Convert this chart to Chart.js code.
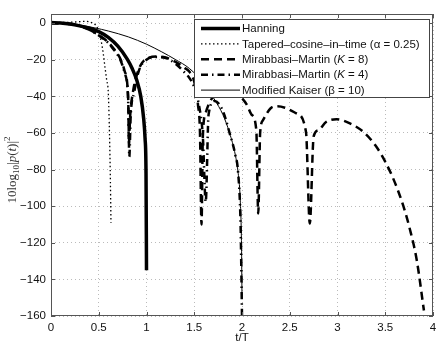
<!DOCTYPE html>
<html>
<head>
<meta charset="utf-8">
<script src="https://cdn.jsdelivr.net/npm/chart.js@4"></script>
<style>
  html, body { margin: 0; padding: 0; background: #fff; }
  #wrap { width: 443px; height: 350px; }
</style>
</head>
<body>
<div id="wrap"><canvas id="chart" width="443" height="350"></canvas></div>
<script>
// axis ticks
const xTicks = [0, 0.5, 1, 1.5, 2, 2.5, 3, 3.5, 4];
const yTicks = [-160, -140, -120, -100, -80, -60, -40, -20, 0];

// Hanning
const hanT  = [0, 0.1, 0.2, 0.3, 0.4, 0.5, 0.6, 0.7, 0.8, 0.85, 0.9, 0.94, 0.97, 0.985, 0.995, 1.0];
const hanDb = [0.3, 0.1, -0.5, -1.5, -2.8, -4.6, -7.8, -12.6, -19.8, -24.8, -31.5, -40, -52, -63, -82, -135];

// Tapered-cosine-in-time (alpha = 0.25)
const tcT  = [0, 0.1, 0.2, 0.3, 0.34, 0.43, 0.48, 0.505, 0.53, 0.547, 0.565, 0.583, 0.6, 0.61, 0.62, 0.628];
const tcDb = [0.4, 0.4, 0.5, 0.8, 1, 0.2, -2, -5.6, -11, -16.5, -24, -31, -38, -55, -80, -109];

// Mirabbasi-Martin K = 8
const k8T  = [0, 0.1, 0.2, 0.3, 0.4, 0.5, 0.6, 0.65, 0.7, 0.73, 0.77, 0.8, 0.81, 0.815, 0.83, 0.86, 0.9, 0.95, 1.0, 1.1, 1.2, 1.3, 1.4, 1.45, 1.5, 1.54, 1.56, 1.576, 1.59, 1.62, 1.7, 1.8, 1.9, 2.0, 2.05, 2.1, 2.15, 2.17, 2.19, 2.22, 2.3, 2.37, 2.45, 2.57, 2.67, 2.71, 2.75, 2.8, 2.88, 2.99, 3.13, 3.27, 3.4, 3.51, 3.6, 3.69, 3.76, 3.83, 3.905];
const k8Db = [0, -0.1, -0.5, -1.5, -3.5, -6.5, -10.5, -13.5, -17, -20, -26, -34, -45, -66, -50, -37, -28, -22, -19.5, -18.2, -18.8, -21, -24.5, -26.6, -32, -45, -60, -110, -62, -49, -40, -36.5, -37, -41, -44.5, -50, -58.5, -104, -60, -53, -46.5, -45.4, -46.2, -49.3, -59.4, -109.5, -62, -58.5, -54, -52.5, -54.8, -59.4, -67, -76.7, -87, -100, -113, -129.5, -157];

// Mirabbasi-Martin K = 4
const k4T  = [0, 0.1, 0.2, 0.3, 0.4, 0.5, 0.6, 0.65, 0.7, 0.73, 0.77, 0.8, 0.81, 0.82, 0.835, 0.87, 0.92, 1.0, 1.1, 1.2, 1.3, 1.4, 1.45, 1.5, 1.55, 1.59, 1.62, 1.65, 1.715, 1.8, 1.87, 1.93, 1.96, 1.985, 2.0];
const k4Db = [0, -0.1, -0.5, -1.5, -3.6, -6.7, -10.8, -14, -17.5, -20.5, -27, -35, -46, -73, -50, -38, -26, -20, -18.5, -19, -22, -27, -30, -35, -45, -62, -97.6, -50, -42.5, -48, -60, -72, -82, -110, -160];

// Modified Kaiser (beta = 10)
const mkT  = [0, 0.1, 0.2, 0.3, 0.46, 0.6, 0.81, 1.0, 1.16, 1.3, 1.45, 1.6, 1.715, 1.8, 1.87, 1.93, 1.96, 1.98, 1.995, 2.0];
const mkDb = [0, -0.1, -0.4, -1.0, -2.6, -4.3, -7.5, -11.5, -15.7, -19.8, -24.8, -33, -42, -50, -60, -72, -82, -95, -122, -150];

const FONT = "'Liberation Sans', Arial, sans-serif";
const SERIF = "'Liberation Serif', 'Times New Roman', serif";
const FS = 11.5;

function pts(ts, vals) {
    return ts.map((t, i) => ({ x: t, y: vals[i] }));
}

function series(label, ts, vals, width, dash) {
    return {
        label: label,
        data: pts(ts, vals),
        showLine: true,
        borderColor: '#000',
        borderWidth: width,
        borderDash: dash,
        pointRadius: 0,
        cubicInterpolationMode: 'monotone',
        fill: false
    };
}

// draws text, putting a lone K in italics
function drawRich(ctx, text, x, y, size) {
    text.split(/(\bK\b)/).forEach(part => {
        if (!part) return;
        ctx.font = (part === 'K' ? 'italic ' : '') + size + 'px ' + FONT;
        ctx.fillText(part, x, y);
        x += ctx.measureText(part).width;
    });
}

// axes box, inner ticks, legend, y label (MATLAB look)
const matlabDecor = {
    id: 'matlabDecor',
    afterDatasetsDraw(chart) {
        const { ctx, chartArea: a, scales } = chart;
        const x = scales.x, y = scales.y;
        ctx.save();

        // inner tick marks on all four sides
        ctx.strokeStyle = '#555';
        ctx.lineWidth = 1;
        ctx.beginPath();
        xTicks.forEach(v => {
            const px = Math.round(x.getPixelForValue(v)) + 0.5;
            ctx.moveTo(px, a.bottom); ctx.lineTo(px, a.bottom - 4);
            ctx.moveTo(px, a.top); ctx.lineTo(px, a.top + 4);
        });
        yTicks.forEach(v => {
            const py = Math.round(y.getPixelForValue(v)) + 0.5;
            ctx.moveTo(a.left, py); ctx.lineTo(a.left + 4, py);
            ctx.moveTo(a.right, py); ctx.lineTo(a.right - 4, py);
        });
        ctx.stroke();
        ctx.strokeRect(a.left + 0.5, a.top + 0.5, a.width - 1, a.height - 1);

        // legend
        const box = { left: a.left + 143, top: a.top + 5, width: 235, height: 78 };
        ctx.fillStyle = '#fff';
        ctx.fillRect(box.left, box.top, box.width, box.height);
        ctx.strokeStyle = '#444';
        ctx.strokeRect(box.left + 0.5, box.top + 0.5, box.width, box.height);

        chart.data.datasets.forEach((ds, i) => {
            const ry = box.top + 9.5 + i * 15.4;
            ctx.strokeStyle = ds.borderColor;
            ctx.lineWidth = ds.borderWidth;
            ctx.setLineDash(ds.borderDash || []);
            ctx.beginPath();
            ctx.moveTo(box.left + 7, ry);
            ctx.lineTo(box.left + 46, ry);
            ctx.stroke();
            ctx.setLineDash([]);
            ctx.fillStyle = '#111';
            ctx.textBaseline = 'middle';
            drawRich(ctx, ds.label, box.left + 48, ry + 0.5, FS);
        });

        // y axis label: 10 log10 |p(t)|^2
        const parts = [
            { t: '10log', f: '13px ' + SERIF, dy: 0 },
            { t: '10', f: '9px ' + SERIF, dy: 3 },
            { t: '|', f: '13px ' + SERIF, dy: 0 },
            { t: 'p', f: 'italic 13px ' + SERIF, dy: 0 },
            { t: '(', f: '13px ' + SERIF, dy: 0 },
            { t: 't', f: 'italic 13px ' + SERIF, dy: 0 },
            { t: ')|', f: '13px ' + SERIF, dy: 0 },
            { t: '2', f: '9px ' + SERIF, dy: -6 }
        ];
        let total = 0;
        parts.forEach(p => { ctx.font = p.f; p.w = ctx.measureText(p.t).width; total += p.w; });
        ctx.translate(16, (a.top + a.bottom) / 2 + 5);
        ctx.rotate(-Math.PI / 2);
        ctx.fillStyle = '#333';
        ctx.textBaseline = 'alphabetic';
        let cx = -total / 2;
        parts.forEach(p => {
            ctx.font = p.f;
            ctx.fillText(p.t, cx, p.dy);
            cx += p.w;
        });
        ctx.restore();
    }
};

const ctx = document.getElementById('chart').getContext('2d');
const chart = new Chart(ctx, {
    type: 'scatter',
    data: {
        datasets: [
            series('Hanning', hanT, hanDb, 3.5, []),
            series('Tapered\u2013cosine\u2013in\u2013time (\u03b1 = 0.25)', tcT, tcDb, 1.3, [1.5, 2.5]),
            series('Mirabbasi\u2013Martin (K = 8)', k8T, k8Db, 2.5, [8, 5]),
            series('Mirabbasi\u2013Martin (K = 4)', k4T, k4Db, 2.5, [7, 4, 1.5, 4]),
            series('Modified Kaiser (\u03b2 = 10)', mkT, mkDb, 1, [])
        ]
    },
    options: {
        responsive: false,
        animation: false,
        events: [],
        layout: { padding: { left: 0, right: 10, top: 14, bottom: 0 } },
        plugins: {
            legend: { display: false },
            tooltip: { enabled: false }
        },
        scales: {
            x: {
                type: 'linear',
                min: 0,
                max: 4,
                afterBuildTicks: scale => { scale.ticks = xTicks.map(v => ({ value: v })); },
                afterFit: scale => { scale.height = 34; },
                grid: { color: '#bbb', lineWidth: 1, drawTicks: false },
                border: { display: false, dash: [1, 3] },
                ticks: {
                    padding: 5,
                    color: '#111',
                    font: { family: FONT, size: FS },
                    maxRotation: 0,
                    callback: v => String(v)
                },
                title: {
                    display: true,
                    text: 't/T',
                    color: '#111',
                    font: { family: FONT, size: FS },
                    padding: { top: 0, bottom: 5 }
                }
            },
            y: {
                type: 'linear',
                min: -160,
                max: 5,
                afterBuildTicks: scale => { scale.ticks = yTicks.map(v => ({ value: v })); },
                afterFit: scale => { scale.width = 51; },
                grid: { color: '#bbb', lineWidth: 1, drawTicks: false },
                border: { display: false, dash: [1, 3] },
                ticks: {
                    padding: 5,
                    color: '#111',
                    font: { family: FONT, size: FS },
                    callback: v => (v < 0 ? '\u2212' + Math.abs(v) : String(v))
                }
            }
        }
    },
    plugins: [matlabDecor]
});
</script>
</body>
</html>
